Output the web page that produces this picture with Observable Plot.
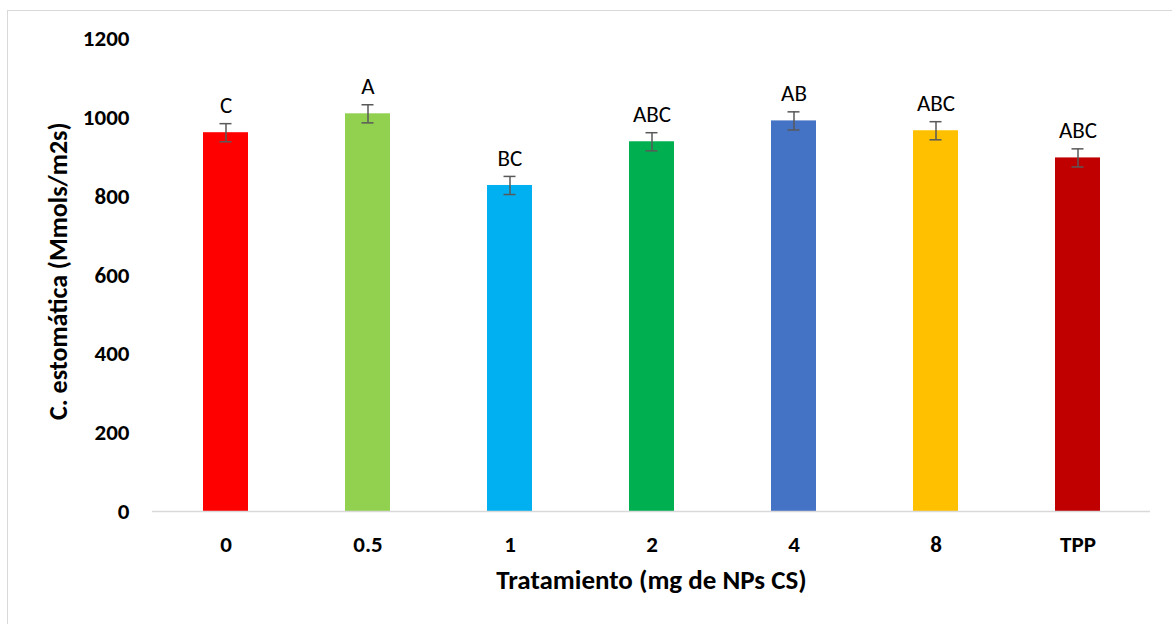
<!DOCTYPE html>
<html>
<head>
<meta charset="utf-8">
<script src="https://cdn.jsdelivr.net/npm/d3@7"></script>
<script src="https://cdn.jsdelivr.net/npm/@observablehq/plot@0.6"></script>
<style>
  html, body { margin: 0; padding: 0; background: #fff; }
  #wrap { position: relative; width: 1172px; height: 624px; overflow: hidden; }
  #border { position: absolute; left: 7px; top: 10px; width: 1200px; height: 700px;
            border: 1px solid #d9d9d9; box-sizing: border-box; }
  #chart { position: absolute; left: 0; top: 0; }
</style>
</head>
<body>
<div id="wrap"><div id="border"></div><div id="chart"></div></div>
<script>
// Stomatal conductance by chitosan nanoparticle treatment
const treatments = ["0", "0.5", "1", "2", "4", "8", "TPP"];
const means      = [962, 1010, 828, 939, 992, 967, 898];
const errors     = [23, 23, 23, 23, 23, 23, 23];
const letters    = ["C", "A", "BC", "ABC", "AB", "ABC", "ABC"];
const colors     = ["#FF0000", "#92D050", "#00B0F0", "#00B050", "#4472C4", "#FFC000", "#C00000"];
const yTicks     = [0, 200, 400, 600, 800, 1000, 1200];
const yTitle     = "C. estomática (Mmols/m2s)";
const xTitle     = "Tratamiento (mg de NPs CS)";

const rows = treatments.map((t, i) => ({
  t, v: means[i], e: errors[i], lo: means[i] - errors[i], hi: means[i] + errors[i],
  letter: letters[i], color: colors[i]
}));

const font = "Carlito, Calibri, 'Open Sans', sans-serif";

const chart = Plot.plot({
  width: 1172,
  height: 624,
  marginLeft: 152,
  marginRight: 22,
  marginTop: 38.5,
  marginBottom: 113,
  style: { fontFamily: font, background: "transparent", color: "#000" },
  x: { domain: treatments, paddingInner: 0.684, paddingOuter: 0.342 },
  y: { domain: [0, 1200] },
  marks: [
    Plot.barY(rows, { x: "t", y: "v", fill: "color" }),
    Plot.ruleY([0], { stroke: "#d9d9d9", strokeWidth: 1.5 }),
    Plot.ruleX(rows, { x: "t", y1: "lo", y2: "hi", stroke: "#595959", strokeWidth: 1.5 }),
    Plot.tickY(rows, { x: "t", y: "hi", stroke: "#595959", strokeWidth: 1.5, insetLeft: 16.5, insetRight: 16.5 }),
    Plot.tickY(rows, { x: "t", y: "lo", stroke: "#595959", strokeWidth: 1.5, insetLeft: 16.5, insetRight: 16.5 }),
    Plot.text(rows, { x: "t", y: "hi", text: "letter", dy: -18, fontSize: 23, fill: "#000" }),
    Plot.axisY({
      ticks: yTicks, tickFormat: d => String(d), tickSize: 0, tickPadding: 23,
      fontSize: 23, fontWeight: "bold", label: null
    }),
    Plot.axisX({
      tickSize: 0, tickPadding: 24, fontSize: 23, fontWeight: "bold", label: null
    }),
    Plot.text([yTitle], {
      frameAnchor: "left", dx: -94, dy: -4, rotate: -90, textAnchor: "middle", lineAnchor: "middle",
      fontSize: 26, fontWeight: "bold", fill: "#000"
    }),
    Plot.text([xTitle], {
      frameAnchor: "bottom", dy: 69, lineAnchor: "middle",
      fontSize: 27, fontWeight: "bold", fill: "#000"
    })
  ]
});

document.getElementById("chart").appendChild(chart);
</script>
</body>
</html>
